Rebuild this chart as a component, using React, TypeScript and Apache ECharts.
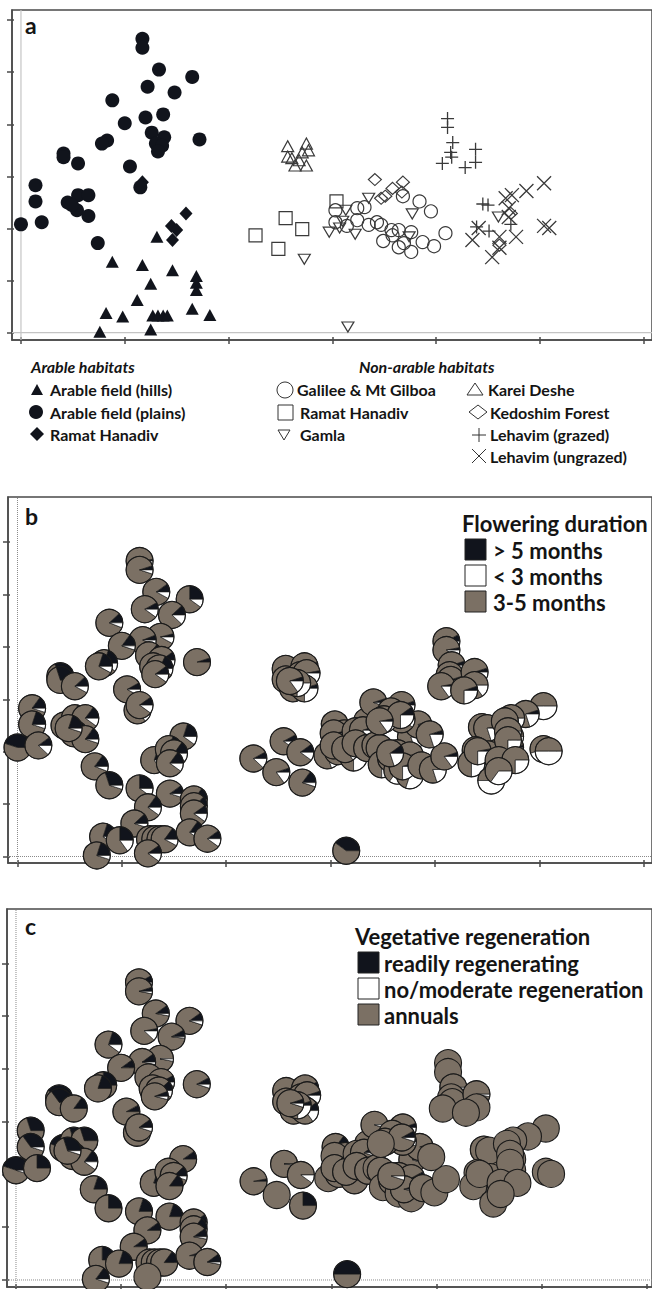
import React, { useEffect, useRef } from "react";
import * as echarts from "echarts";

// ---------- ordination coordinates (axis units) ----------
const plainsXY = [
  [1.17, 5.64], [1.17, 5.47], [1.33, 5.05], [1.65, 4.91], [1.22, 4.72], [1.48, 4.61], [0.88, 4.46], [1.37, 4.19],
  [1.2, 4.13], [1.0, 4.02], [1.26, 3.84], [1.38, 3.75], [1.72, 3.71], [0.83, 3.69], [0.78, 3.63], [1.3, 3.63],
  [1.36, 3.59], [1.32, 3.48], [0.41, 3.44], [0.41, 3.37], [0.55, 3.25], [1.05, 3.19], [0.14, 2.83], [1.15, 2.79],
  [0.14, 2.52], [0.45, 2.5], [0.55, 2.64], [0.65, 2.64], [0.54, 2.35], [0.65, 2.24], [0.0, 2.08], [0.2, 2.12],
  [0.74, 1.72], [0.49, 2.45],
];
const hillsXY = [
  [1.31, 1.84], [0.88, 1.36], [1.17, 1.3], [1.46, 1.2], [1.25, 0.94], [1.69, 1.09], [1.69, 0.96], [1.69, 0.82],
  [1.12, 0.63], [0.82, 0.38], [0.98, 0.31], [1.27, 0.33], [1.32, 0.33], [1.37, 0.33], [1.41, 0.33], [1.65, 0.46],
  [1.82, 0.34], [0.76, 0.02], [1.25, 0.06],
];
const arableRhXY = [[1.17, 2.89], [1.59, 2.29], [1.45, 2.05], [1.5, 1.97], [1.46, 1.78]];
const kareiXY = [
  [2.57, 3.58], [2.75, 3.63], [2.57, 3.38], [2.71, 3.46], [2.77, 3.5], [2.64, 3.21], [2.75, 3.21], [2.68, 3.31], [2.61, 3.35],
];
const rhNonXY = [[3.04, 2.52], [2.55, 2.2], [2.71, 1.99], [2.26, 1.87], [2.48, 1.61]];
const gamlaXY = [
  [2.73, 1.41], [3.35, 2.58], [3.13, 2.35], [2.97, 1.93], [3.07, 2.01], [3.22, 1.89], [3.1, 2.14], [3.77, 2.28],
  [3.74, 1.84], [3.15, 0.11], [4.6, 2.22],
];
const galileeXY = [
  [3.03, 2.35], [3.03, 2.12], [3.14, 2.05], [3.24, 2.39], [3.31, 2.41], [3.24, 2.16], [3.35, 2.07], [3.43, 2.12],
  [3.47, 2.07], [3.49, 1.76], [3.58, 1.87], [3.64, 1.97], [3.64, 1.64], [3.76, 1.93], [3.76, 1.55], [3.69, 1.72],
  [3.87, 1.74], [3.98, 1.66], [4.09, 1.91], [3.84, 2.52], [3.95, 2.33], [3.68, 2.62], [3.57, 1.97],
];
const kedoshimXY = [[3.41, 2.94], [3.68, 2.89], [3.58, 2.77], [3.51, 2.62], [3.67, 2.7], [3.47, 2.58], [4.72, 2.29], [4.61, 1.68]];
const lehGrazedXY = [
  [4.11, 4.11], [4.11, 3.94], [4.16, 3.65], [4.14, 3.46], [4.15, 3.37], [4.06, 3.25], [4.38, 3.52], [4.38, 3.27],
  [4.28, 3.17], [4.45, 2.47], [4.5, 2.45], [4.39, 2.03], [4.51, 1.95], [4.72, 2.08],
];
const lehUngrazedXY = [
  [5.04, 2.87], [4.87, 2.72], [4.73, 2.64], [4.67, 2.58], [4.7, 2.39], [4.7, 2.22], [4.35, 1.78], [4.41, 2.01],
  [4.61, 1.84], [4.77, 1.84], [4.54, 1.45], [4.61, 1.63], [5.04, 2.05], [5.09, 2.01],
];

// ---------- flowering duration fractions [>5 months, <3 months]; rest = 3-5 months ----------
const plainsFlower = [
  [0.02, 0.08], [0.05, 0.05], [0.1, 0.08], [0.25, 0.1], [0.08, 0.1], [0.12, 0.12], [0.12, 0.06], [0.04, 0.08],
  [0.06, 0.06], [0.15, 0.05], [0.15, 0.08], [0.1, 0.1], [0.05, 0.0], [0.2, 0.1], [0.2, 0.08], [0.12, 0.1],
  [0.18, 0.08], [0.1, 0.1], [0.32, 0.0], [0.3, 0.02], [0.12, 0.08], [0.08, 0.08], [0.15, 0.05], [0.15, 0.15],
  [0.2, 0.05], [0.25, 0.05], [0.22, 0.05], [0.15, 0.1], [0.2, 0.05], [0.15, 0.05], [0.45, 0.0], [0.1, 0.12],
  [0.15, 0.06], [0.2, 0.05],
];
const hillsFlower = [
  [0.2, 0.15], [0.3, 0.05], [0.25, 0.1], [0.1, 0.05], [0.15, 0.1], [0.15, 0.1], [0.12, 0.12], [0.1, 0.1],
  [0.12, 0.05], [0.2, 0.1], [0.25, 0.15], [0.25, 0.12], [0.2, 0.1], [0.2, 0.1], [0.15, 0.08], [0.15, 0.1],
  [0.1, 0.1], [0.2, 0.05], [0.1, 0.1],
];
const arableRhFlower = [[0.1, 0.1], [0.2, 0.1], [0.2, 0.15], [0.15, 0.1], [0.15, 0.1]];
const kareiFlower = [[0.05, 0.15], [0.05, 0.25], [0.0, 0.2], [0.05, 0.25], [0.03, 0.2], [0.05, 0.2], [0.05, 0.25], [0.0, 0.25], [0.05, 0.15]];
const rhNonFlower = [[0.05, 0.2], [0.08, 0.1], [0.1, 0.1], [0.08, 0.12], [0.05, 0.15]];
const gamlaFlower = [
  [0.15, 0.05], [0.05, 0.2], [0.05, 0.2], [0.03, 0.2], [0.05, 0.15], [0.05, 0.25], [0.0, 0.2], [0.05, 0.2],
  [0.05, 0.15], [0.4, 0.0], [0.0, 0.25],
];
const galileeFlower = [
  [0.03, 0.15], [0.0, 0.2], [0.05, 0.15], [0.0, 0.1], [0.05, 0.2], [0.0, 0.25], [0.05, 0.2], [0.03, 0.25],
  [0.0, 0.3], [0.05, 0.25], [0.0, 0.25], [0.05, 0.3], [0.0, 0.35], [0.03, 0.25], [0.0, 0.3], [0.05, 0.25],
  [0.03, 0.2], [0.0, 0.2], [0.05, 0.15], [0.05, 0.15], [0.05, 0.2], [0.08, 0.1], [0.1, 0.2],
];
const kedoshimFlower = [[0.05, 0.05], [0.05, 0.1], [0.08, 0.2], [0.05, 0.25], [0.1, 0.25], [0.03, 0.15], [0.0, 0.3], [0.0, 0.3]];
const lehGrazedFlower = [
  [0.08, 0.15], [0.03, 0.1], [0.05, 0.2], [0.05, 0.2], [0.05, 0.2], [0.03, 0.15], [0.05, 0.1], [0.0, 0.15],
  [0.05, 0.25], [0.05, 0.25], [0.03, 0.2], [0.0, 0.3], [0.0, 0.3], [0.03, 0.25],
];
const lehUngrazedFlower = [
  [0.0, 0.5], [0.05, 0.2], [0.0, 0.25], [0.0, 0.3], [0.0, 0.2], [0.0, 0.25], [0.0, 0.25], [0.03, 0.25],
  [0.0, 0.3], [0.0, 0.25], [0.0, 0.5], [0.0, 0.35], [0.0, 0.45], [0.0, 0.5],
];

// ---------- vegetative regeneration fractions [readily, no/moderate]; rest = annuals ----------
const plainsRegen = [
  [0.08, 0.02], [0.05, 0.03], [0.1, 0.03], [0.1, 0.05], [0.03, 0.12], [0.08, 0.02], [0.2, 0.1], [0.0, 0.03],
  [0.1, 0.03], [0.1, 0.0], [0.1, 0.1], [0.08, 0.05], [0.08, 0.05], [0.25, 0.0], [0.2, 0.0], [0.1, 0.05],
  [0.12, 0.08], [0.06, 0.04], [0.4, 0.08], [0.35, 0.05], [0.15, 0.0], [0.08, 0.0], [0.3, 0.0], [0.15, 0.08],
  [0.35, 0.05], [0.45, 0.1], [0.3, 0.05], [0.3, 0.0], [0.2, 0.05], [0.15, 0.1], [0.45, 0.05], [0.25, 0.0],
  [0.2, 0.0], [0.3, 0.05],
];
const hillsRegen = [
  [0.2, 0.05], [0.25, 0.0], [0.2, 0.0], [0.2, 0.0], [0.1, 0.0], [0.1, 0.02], [0.15, 0.05], [0.1, 0.03],
  [0.1, 0.0], [0.25, 0.0], [0.2, 0.0], [0.25, 0.0], [0.2, 0.02], [0.15, 0.0], [0.15, 0.0], [0.05, 0.0],
  [0.1, 0.03], [0.15, 0.05], [0.0, 0.0],
];
const arableRhRegen = [[0.1, 0.05], [0.1, 0.0], [0.1, 0.0], [0.12, 0.05], [0.15, 0.0]];
const kareiRegen = [[0.05, 0.1], [0.08, 0.15], [0.0, 0.1], [0.1, 0.15], [0.05, 0.1], [0.05, 0.1], [0.1, 0.15], [0.05, 0.25], [0.05, 0.05]];
const rhNonRegen = [[0.15, 0.05], [0.0, 0.02], [0.0, 0.1], [0.03, 0.0], [0.0, 0.0]];
const gamlaRegen = [
  [0.25, 0.0], [0.05, 0.05], [0.1, 0.05], [0.0, 0.0], [0.15, 0.05], [0.1, 0.0], [0.0, 0.0], [0.05, 0.05],
  [0.0, 0.0], [0.5, 0.0], [0.0, 0.0],
];
const galileeRegen = [
  [0.0, 0.0], [0.15, 0.0], [0.05, 0.05], [0.0, 0.0], [0.1, 0.05], [0.1, 0.05], [0.0, 0.03], [0.0, 0.0],
  [0.05, 0.0], [0.0, 0.0], [0.0, 0.05], [0.08, 0.03], [0.0, 0.0], [0.08, 0.0], [0.0, 0.0], [0.05, 0.03],
  [0.0, 0.05], [0.0, 0.0], [0.0, 0.0], [0.05, 0.0], [0.0, 0.0], [0.05, 0.05], [0.0, 0.05],
];
const kedoshimRegen = [[0.0, 0.05], [0.05, 0.08], [0.08, 0.1], [0.05, 0.05], [0.08, 0.05], [0.0, 0.0], [0.0, 0.0], [0.0, 0.0]];
const lehGrazedRegen = [
  [0.0, 0.0], [0.0, 0.0], [0.0, 0.03], [0.0, 0.0], [0.0, 0.0], [0.0, 0.0], [0.0, 0.03], [0.0, 0.0],
  [0.0, 0.0], [0.0, 0.03], [0.0, 0.0], [0.0, 0.0], [0.0, 0.0], [0.0, 0.0],
];
const lehUngrazedRegen = [
  [0.0, 0.0], [0.0, 0.0], [0.0, 0.0], [0.0, 0.0], [0.0, 0.0], [0.0, 0.0], [0.0, 0.0], [0.0, 0.0],
  [0.0, 0.0], [0.0, 0.0], [0.0, 0.0], [0.0, 0.0], [0.0, 0.0], [0.0, 0.0],
];

const axisTicks = [0, 1, 2, 3, 4, 5, 6];

// ---------- styles ----------
const W = 652;
const H = 1289;
const FRAME = "#4a4a4a";
const DARK = "#11141c";
const OPEN = "#3a3a3a";
const GREY = "#7b7064";
const FONT = "Lato, 'Open Sans', sans-serif";

const groupsXY = [plainsXY, hillsXY, arableRhXY, kareiXY, rhNonXY, gamlaXY, galileeXY, kedoshimXY, lehGrazedXY, lehUngrazedXY];
const groupsFlower = [plainsFlower, hillsFlower, arableRhFlower, kareiFlower, rhNonFlower, gamlaFlower, galileeFlower, kedoshimFlower, lehGrazedFlower, lehUngrazedFlower];
const groupsRegen = [plainsRegen, hillsRegen, arableRhRegen, kareiRegen, rhNonRegen, gamlaRegen, galileeRegen, kedoshimRegen, lehGrazedRegen, lehUngrazedRegen];

function pieData(fracs: number[][][]) {
  const out: number[][] = [];
  groupsXY.forEach((g, gi) => {
    g.forEach((p, i) => {
      const f = fracs[gi][i] || [0, 0];
      out.push([p[0], p[1], f[0], f[1]]);
    });
  });
  return out;
}

const PIE_R = 13.5;
function renderPie(params: any, api: any) {
  const x = api.value(0);
  const y = api.value(1);
  const fb = api.value(2);
  const fw = api.value(3);
  const c = api.coord([x, y]);
  const cx = c[0];
  const cy = c[1];
  const segs: [number, string][] = [
    [fb, DARK],
    [1 - fb - fw, GREY],
    [fw, "#ffffff"],
  ];
  const children: any[] = [];
  let a = 0;
  for (const [f, col] of segs) {
    if (f <= 0.001) continue;
    if (f >= 0.999) {
      children.push({ type: "circle", shape: { cx, cy, r: PIE_R }, style: { fill: col, stroke: "none" } });
      continue;
    }
    const a0 = a;
    const a1 = a + f * Math.PI * 2;
    children.push({
      type: "sector",
      shape: { cx, cy, r0: 0, r: PIE_R, startAngle: -a1, endAngle: -a0, clockwise: true },
      style: { fill: col, stroke: "#1a1a1a", lineWidth: 0.7 },
    });
    a = a1;
  }
  children.push({ type: "circle", shape: { cx, cy, r: PIE_R }, style: { fill: "none", stroke: "#1a1a1a", lineWidth: 1.1 } });
  return { type: "group", children };
}

function makeAxes(gi: number, xmin: number, xmax: number, ymin: number, ymax: number) {
  const lineStyle = { color: FRAME, width: 1.5 };
  const base = { type: "value", gridIndex: gi, splitLine: { show: false }, axisLabel: { show: false } };
  const xs = [
    { ...base, min: xmin, max: xmax, position: "bottom", axisLine: { show: true, onZero: false, lineStyle },
      axisTick: { show: true, customValues: axisTicks, length: 4, inside: false, lineStyle } },
    { ...base, min: xmin, max: xmax, position: "bottom", axisLine: { show: false, onZero: false },
      axisTick: { show: true, customValues: axisTicks, length: 3, inside: true, lineStyle } },
  ];
  const ys = [
    { ...base, min: ymin, max: ymax, position: "left", axisLine: { show: true, onZero: false, lineStyle },
      axisTick: { show: true, customValues: axisTicks, length: 5, inside: false, lineStyle } },
    { ...base, min: ymin, max: ymax, position: "left", axisLine: { show: false, onZero: false },
      axisTick: { show: true, customValues: axisTicks, length: 2, inside: true, lineStyle } },
  ];
  return { xs, ys };
}

function zeroLines(gi: number, xmin: number, xmax: number, ymin: number, ymax: number, color: string, type: string, width: number) {
  const common = {
    type: "line", xAxisIndex: gi * 2, yAxisIndex: gi * 2, symbol: "none", silent: true, z: 1,
    lineStyle: { color, type, width }, animation: false,
  };
  return [
    { ...common, data: [[0, ymin], [0, ymax]] },
    { ...common, data: [[xmin, 0], [xmax, 0]] },
  ];
}

const TRANSPARENT = "rgba(255,255,255,0)";
const openStyle = { color: TRANSPARENT, borderColor: OPEN, borderWidth: 1.2, opacity: 1 };

function buildOption() {
  const ranges = [
    { xmin: -0.0864, xmax: 6.08, ymin: -0.14, ymax: 6.194 },
    { xmin: -0.091, xmax: 6.08, ymin: -0.124, ymax: 6.861 },
    { xmin: -0.0855, xmax: 6.05, ymin: -0.133, ymax: 7.03 },
  ];
  const grids = [
    { left: 12, top: 10, width: 643, height: 330 },
    { left: 8, top: 497, width: 647, height: 366 },
    { left: 7, top: 909, width: 648, height: 378 },
  ].map((g) => ({ ...g, show: true, borderColor: FRAME, borderWidth: 1.5, backgroundColor: "transparent", containLabel: false }));

  const xAxis: any[] = [];
  const yAxis: any[] = [];
  ranges.forEach((r, i) => {
    const a = makeAxes(i, r.xmin, r.xmax, r.ymin, r.ymax);
    xAxis.push(...a.xs);
    yAxis.push(...a.ys);
  });

  const sc = (data: number[][], extra: any) => ({
    type: "scatter", xAxisIndex: 0, yAxisIndex: 0, data, silent: true, z: 3, ...extra,
  });

  const series: any[] = [
    ...zeroLines(0, ranges[0].xmin, ranges[0].xmax, ranges[0].ymin, ranges[0].ymax, "#c4c4c4", "solid", 1.2),
    ...zeroLines(1, ranges[1].xmin, ranges[1].xmax, ranges[1].ymin, ranges[1].ymax, "#8a8a8a", "dotted", 1),
    ...zeroLines(2, ranges[2].xmin, ranges[2].xmax, ranges[2].ymin, ranges[2].ymax, "#8a8a8a", "dotted", 1),
    sc(galileeXY, { name: "Galilee & Mt Gilboa", symbol: "circle", symbolSize: 13, itemStyle: openStyle }),
    sc(rhNonXY, { name: "Ramat Hanadiv (non-arable)", symbol: "rect", symbolSize: 13, itemStyle: openStyle }),
    sc(gamlaXY, { name: "Gamla", symbol: "triangle", symbolRotate: 180, symbolSize: [12, 10], itemStyle: openStyle }),
    sc(kareiXY, { name: "Karei Deshe", symbol: "triangle", symbolSize: [12, 11], itemStyle: openStyle }),
    sc(kedoshimXY, { name: "Kedoshim Forest", symbol: "diamond", symbolSize: [13, 12], itemStyle: openStyle }),
    sc(lehGrazedXY, { name: "Lehavim (grazed)", symbol: "path://M0,6H12M6,0V12", symbolSize: 13, itemStyle: { color: TRANSPARENT, borderColor: OPEN, borderWidth: 1.3, opacity: 1 } }),
    sc(lehUngrazedXY, { name: "Lehavim (ungrazed)", symbol: "path://M0,0L12,12M12,0L0,12", symbolSize: 14, itemStyle: { color: TRANSPARENT, borderColor: OPEN, borderWidth: 1.3, opacity: 1 } }),
    sc(arableRhXY, { name: "Ramat Hanadiv (arable)", symbol: "diamond", symbolSize: [13, 14], itemStyle: { color: DARK, opacity: 1 } }),
    sc(hillsXY, { name: "Arable field (hills)", symbol: "triangle", symbolSize: [13, 12], itemStyle: { color: DARK, opacity: 1 } }),
    sc(plainsXY, { name: "Arable field (plains)", symbol: "circle", symbolSize: 14, itemStyle: { color: DARK, opacity: 1 } }),
    { type: "custom", xAxisIndex: 2, yAxisIndex: 2, data: pieData(groupsFlower), encode: { x: 0, y: 1 }, renderItem: renderPie, silent: true, z: 3, clip: false },
    { type: "custom", xAxisIndex: 4, yAxisIndex: 4, data: pieData(groupsRegen), encode: { x: 0, y: 1 }, renderItem: renderPie, silent: true, z: 3, clip: false },
  ];

  const t = (text: string, x: number, y: number, font: string, fill = "#141414") => ({
    type: "text", x, y, silent: true, z: 100,
    style: { text, font, fill, textAlign: "left", align: "left", textVerticalAlign: "middle", verticalAlign: "middle" },
  });
  const legFont = `700 16px ${FONT}`;
  const hdrFont = `italic 700 16px ${FONT}`;
  const bigFont = `700 22px ${FONT}`;
  const stroke = { fill: "none", stroke: "#333", lineWidth: 1 };
  const sq = (x: number, y: number, fill: string) => ({
    type: "rect", shape: { x, y, width: 21, height: 21 }, style: { fill, stroke: "#222", lineWidth: 1 },
  });

  const graphic: any[] = [
    t("a", 25, 25, `700 23px ${FONT}`),
    t("b", 25, 516, `700 23px ${FONT}`),
    t("c", 25, 926, `700 23px ${FONT}`),
    // panel a legend
    t("Arable habitats", 31, 366, hdrFont),
    t("Non-arable habitats", 359, 366, hdrFont),
    { type: "polygon", shape: { points: [[31, 395], [43, 395], [37, 384]] }, style: { fill: DARK } },
    t("Arable field (hills)", 50, 389, legFont),
    { type: "circle", shape: { cx: 36, cy: 412, r: 7 }, style: { fill: DARK } },
    t("Arable field (plains)", 50, 412, legFont),
    { type: "polygon", shape: { points: [[37, 427], [44, 434], [37, 441], [30, 434]] }, style: { fill: DARK } },
    t("Ramat Hanadiv", 50, 434, legFont),
    { type: "circle", shape: { cx: 285, cy: 390, r: 8 }, style: stroke },
    t("Galilee & Mt Gilboa", 297, 389, legFont),
    { type: "rect", shape: { x: 278, y: 405, width: 15, height: 15 }, style: stroke },
    t("Ramat Hanadiv", 300, 412, legFont),
    { type: "polygon", shape: { points: [[278, 430], [290, 430], [284, 440]] }, style: stroke },
    t("Gamla", 300, 434, legFont),
    { type: "polygon", shape: { points: [[467, 395], [483, 395], [475, 383]] }, style: stroke },
    t("Karei Deshe", 488, 389, legFont),
    { type: "polygon", shape: { points: [[478, 405], [487, 412], [478, 419], [469, 412]] }, style: stroke },
    t("Kedoshim Forest", 490, 412, legFont),
    { type: "line", shape: { x1: 472, y1: 435, x2: 486, y2: 435 }, style: { stroke: "#333", lineWidth: 1 } },
    { type: "line", shape: { x1: 479, y1: 428, x2: 479, y2: 442 }, style: { stroke: "#333", lineWidth: 1 } },
    t("Lehavim (grazed)", 490, 434, legFont),
    { type: "line", shape: { x1: 472, y1: 449, x2: 486, y2: 463 }, style: { stroke: "#333", lineWidth: 1 } },
    { type: "line", shape: { x1: 486, y1: 449, x2: 472, y2: 463 }, style: { stroke: "#333", lineWidth: 1 } },
    t("Lehavim (ungrazed)", 490, 456, legFont),
    // panel b legend
    t("Flowering duration", 462, 523, bigFont),
    sq(465, 539, DARK),
    t("> 5 months", 493, 550, bigFont),
    sq(465, 565, "#ffffff"),
    t("< 3 months", 493, 576, bigFont),
    sq(465, 591, GREY),
    t("3-5 months", 493, 602, bigFont),
    // panel c legend
    t("Vegetative regeneration", 355, 936, bigFont),
    sq(358, 952, DARK),
    t("readily regenerating", 384, 963, bigFont),
    sq(358, 978, "#ffffff"),
    t("no/moderate regeneration", 384, 989, bigFont),
    sq(358, 1004, GREY),
    t("annuals", 384, 1015, bigFont),
  ];

  return {
    animation: false,
    backgroundColor: "#ffffff",
    grid: grids,
    xAxis,
    yAxis,
    series,
    graphic,
  };
}

export default function App() {
  const ref = useRef<HTMLDivElement>(null);
  useEffect(() => {
    if (!ref.current) return;
    const chart = echarts.init(ref.current, null, { renderer: "svg", width: W, height: H });
    chart.setOption(buildOption() as any);
    return () => chart.dispose();
  }, []);
  return (
    <div
      ref={ref}
      style={{ position: "absolute", left: 0, top: 0, width: W, height: H, background: "#fff", overflow: "hidden" }}
    />
  );
}
